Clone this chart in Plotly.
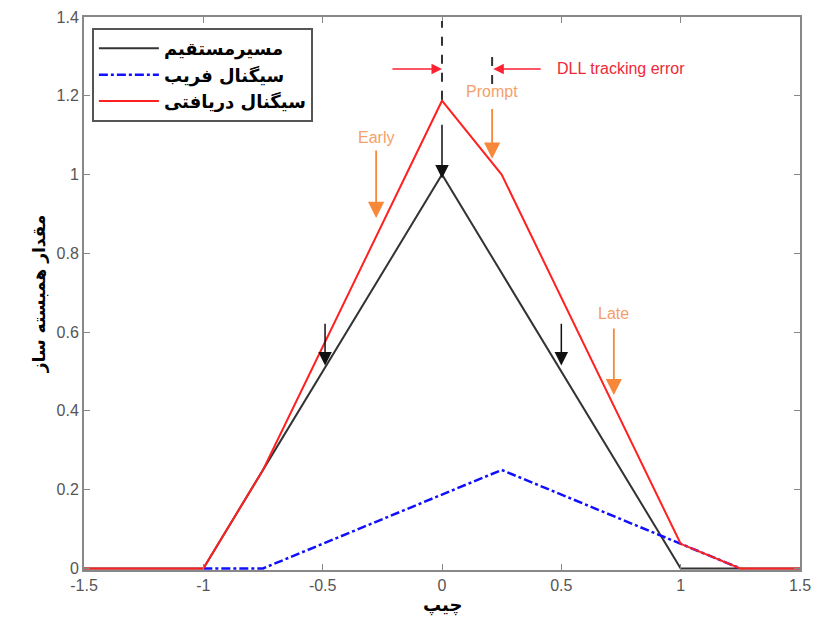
import plotly.graph_objects as go

# ---- data ----
x_direct = [-1.5, -1.0, 0.0, 1.0, 1.25, 1.5]
y_direct = [0.0, 0.0, 1.0, 0.0, 0.0, 0.0]

x_spoof = [-1.0, -0.75, 0.25, 1.0, 1.25]
y_spoof = [0.0, 0.0, 0.25, 0.0625, 0.0]

x_recv = [-1.5, -1.0, -0.75, 0.0, 0.25, 1.0, 1.25, 1.5]
y_recv = [0.0, 0.0, 0.25, 1.1875, 1.0, 0.0625, 0.0, 0.0]

names = ["مسیرمستقیم", "سیگنال فریب", "سیگنال دریافتی"]

x_ticks = [-1.5, -1, -0.5, 0, 0.5, 1, 1.5]
x_ticklabels = ["-1.5", "-1", "-0.5", "0", "0.5", "1", "1.5"]
y_ticks = [0, 0.2, 0.4, 0.6, 0.8, 1.0, 1.2, 1.4]
y_ticklabels = ["0", "0.2", "0.4", "0.6", "0.8", "1", "1.2", "1.4"]

# correlator arrows (tip x, tip y, tail y)
black_arrows = [(-0.49, 0.515, 0.625), (0.0, 0.99, 1.13), (0.50, 0.515, 0.625)]
orange_arrows = [("Early", -0.276, 0.89, 1.065, 1.095),
                 ("Prompt", 0.21, 1.04, 1.17, 1.21),
                 ("Late", 0.72, 0.44, 0.613, 0.648)]
dash_lines = [(0.0, 1.19, 1.39), (0.21, 1.23, 1.30)]
err_y = 1.268
err_left = (-0.214, 0.0)
err_right = (0.42, 0.215)
err_label = "DLL tracking error"

fig = go.Figure()
fig.add_trace(go.Scatter(x=x_direct, y=y_direct, mode="lines", name="<b>" + names[0] + "</b>",
                         line=dict(color="#333333", width=2)))
fig.add_trace(go.Scatter(x=x_spoof, y=y_spoof, mode="lines", name="<b>" + names[1] + "</b>",
                         line=dict(color="#1010ff", width=2.5, dash="dashdot")))
fig.add_trace(go.Scatter(x=x_recv, y=y_recv, mode="lines", name="<b>" + names[2] + "</b>",
                         line=dict(color="#ff2020", width=2)))

ann = []
for (xt, yt, ya) in black_arrows:
    ann.append(dict(x=xt, y=yt, ax=xt, ay=ya, xref="x", yref="y", axref="x", ayref="y",
                    showarrow=True, arrowhead=2, arrowsize=1.8, arrowwidth=1.5,
                    arrowcolor="#111111", text=""))
for (lab, xt, yt, ya, ytxt) in orange_arrows:
    ann.append(dict(x=xt, y=yt, ax=xt, ay=ya, xref="x", yref="y", axref="x", ayref="y",
                    showarrow=True, arrowhead=2, arrowsize=1.8, arrowwidth=1.8,
                    arrowcolor="#f7883a", text=""))
    ann.append(dict(x=xt, y=ytxt, xref="x", yref="y", text=lab, showarrow=False,
                    font=dict(family="Arial", size=16, color="#f5a06a")))
for (xa, xt) in (err_left, err_right):
    ann.append(dict(x=xt, y=err_y, ax=xa, ay=err_y, xref="x", yref="y", axref="x", ayref="y",
                    showarrow=True, arrowhead=2, arrowsize=1.4, arrowwidth=1.5,
                    arrowcolor="#ff2030", text=""))
ann.append(dict(x=0.475, y=err_y, xref="x", yref="y", text=err_label,
                showarrow=False, xanchor="left",
                font=dict(family="Arial", size=16, color="#ee2838")))
ann.append(dict(x=-0.08, y=0.5, xref="paper", yref="paper", text="<b>مقدار همبسته ساز</b>",
                showarrow=False, textangle=-90,
                font=dict(family="DejaVu Sans", size=17, color="black")))
ann.append(dict(x=0.5, y=-0.063, xref="paper", yref="paper", text="<b>چیپ</b>",
                yanchor="middle", showarrow=False,
                font=dict(family="DejaVu Sans", size=18, color="black")))

shapes = []
for (xd, y0, y1) in dash_lines:
    shapes.append(dict(type="line", x0=xd, x1=xd, y0=y0, y1=y1, xref="x", yref="y",
                       line=dict(color="#333333", width=2, dash="dash")))

fig.update_layout(
    width=804, height=612,
    margin=dict(l=76, r=12, t=9, b=50, autoexpand=False),
    paper_bgcolor="white", plot_bgcolor="white",
    annotations=ann, shapes=shapes,
    showlegend=True,
    legend=dict(x=0.011, y=0.98, xanchor="left", yanchor="top",
                bgcolor="white", bordercolor="#555555", borderwidth=2,
                font=dict(family="DejaVu Sans", size=18, color="black"),
                tracegroupgap=0, itemwidth=60),
    font=dict(family="Arial", size=16, color="#555555"),
)
fig.update_xaxes(range=[-1.5, 1.5], tickvals=x_ticks, ticktext=x_ticklabels, automargin=False,
                 showgrid=False, zeroline=False, showline=True, linecolor="#888888",
                 linewidth=2, mirror="ticks", ticks="inside", ticklen=6, tickcolor="#888888",
                 tickfont=dict(family="Arial", size=16, color="#555555"))
fig.update_yaxes(range=[-0.004, 1.4], tickvals=y_ticks, ticktext=y_ticklabels, automargin=False,
                 showgrid=False, zeroline=False, showline=True, linecolor="#888888",
                 linewidth=2, mirror="ticks", ticks="inside", ticklen=6, tickcolor="#888888",
                 tickfont=dict(family="Arial", size=16, color="#555555"))

fig.write_html("out.html")
